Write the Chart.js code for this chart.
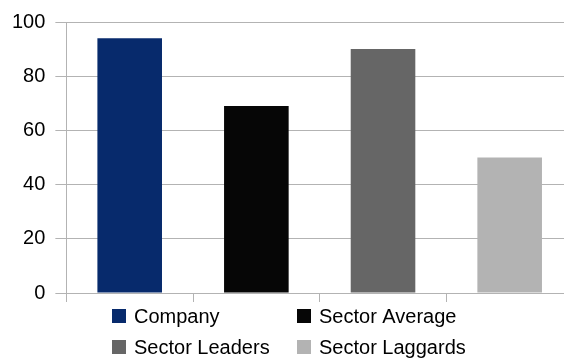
<!DOCTYPE html>
<html>
<head>
<meta charset="utf-8">
<script src="https://cdn.jsdelivr.net/npm/chart.js@4/dist/chart.umd.min.js"></script>
<style>
  html, body { margin: 0; padding: 0; background: #ffffff; overflow: hidden; }
  #wrap { position: relative; width: 573px; height: 358px; }
</style>
</head>
<body>
<div id="wrap"><canvas id="c"></canvas></div>
<script>
// ---- data ----
const categories = ['Company', 'Sector Average', 'Sector Leaders', 'Sector Laggards'];
const values = [94, 69, 90, 50];
const yTickValues = [0, 20, 40, 60, 80, 100];

// ---- styles ----
const barColors = ['#072a6c', '#060606', '#666666', '#b3b3b3'];
const FONT = '"Liberation Sans", Arial, sans-serif';
const GRID = '#b3b3b3';

// legend grid layout (2 columns x 2 rows), drawn as canvas text
const gridLegend = {
  id: 'gridLegend',
  afterDraw(chart) {
    const ctx = chart.ctx;
    const ca = chart.chartArea;
    const colX = [112, 297];
    const rowY = [ca.bottom + 23, ca.bottom + 54];
    const box = 14;
    ctx.save();
    ctx.font = '20px ' + FONT;
    ctx.textBaseline = 'middle';
    ctx.textAlign = 'left';
    chart.data.labels.forEach((lab, i) => {
      const x = colX[i % 2];
      const y = rowY[Math.floor(i / 2)];
      ctx.fillStyle = chart.data.datasets[0].backgroundColor[i];
      ctx.fillRect(x, y - box / 2, box, box);
      ctx.fillStyle = '#000000';
      ctx.fillText(lab, x + box + 8, y + 1);
    });
    ctx.restore();
  }
};

new Chart(document.getElementById('c'), {
  type: 'bar',
  data: {
    labels: categories,
    datasets: [{
      data: values,
      backgroundColor: barColors,
      borderWidth: 0,
      categoryPercentage: 1.0,
      barPercentage: 0.51
    }]
  },
  options: {
    responsive: true,
    maintainAspectRatio: false,
    animation: false,
    devicePixelRatio: 1,
    layout: { padding: { left: 2, right: 0, top: 10, bottom: 56 } },
    plugins: {
      legend: { display: false },
      tooltip: { enabled: false }
    },
    scales: {
      x: {
        offset: true,
        grid: {
          offset: true,
          drawOnChartArea: false,
          drawTicks: true,
          tickLength: 9,
          color: GRID,
          lineWidth: 1
        },
        border: { display: true, color: GRID, width: 1 },
        ticks: { display: false }
      },
      y: {
        min: 0,
        max: 100,
        afterBuildTicks(scale) { scale.ticks = yTickValues.map(v => ({ value: v })); },
        grid: {
          color: GRID,
          lineWidth: 1,
          tickLength: 11
        },
        border: { display: true, color: GRID, width: 1 },
        ticks: {
          padding: 10,
          color: '#000000',
          font: { family: FONT, size: 20 }
        }
      }
    }
  },
  plugins: [gridLegend]
});
</script>
</body>
</html>
